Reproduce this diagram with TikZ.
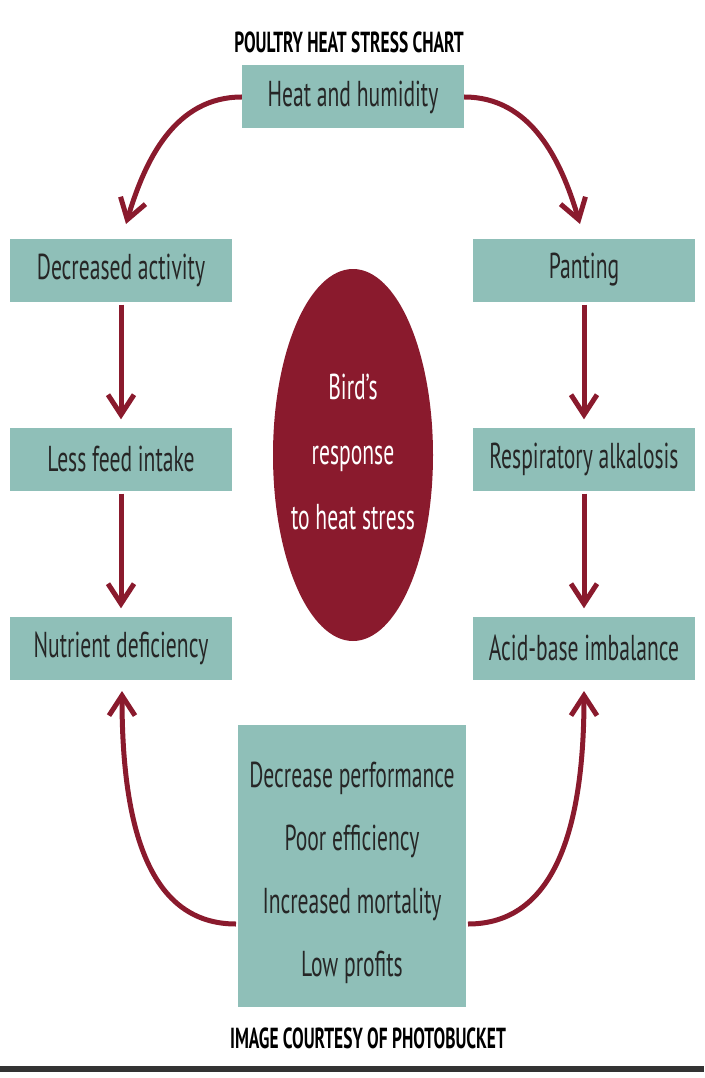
\documentclass[tikz,border=0pt]{standalone}
\usepackage{fontspec}
\setmainfont[FakeStretch=0.6]{PT Sans}
\usetikzlibrary{arrows.meta,positioning,shapes.geometric}
\definecolor{boxteal}{HTML}{8FBFB8}
\definecolor{birdred}{HTML}{8A1A2D}

\begin{document}
\begin{tikzpicture}[x=1pt,y=-1pt,
  stage/.style={fill=boxteal,minimum width=222pt,minimum height=63pt,inner sep=0pt,
    text=black!85,font=\fontsize{36}{63}\selectfont},
  caption/.style={font=\bfseries\fontsize{29}{30}\selectfont},
  flow/.style={birdred,line width=5pt,-{Straight Barb[length=20pt,width=26pt]}}]
  \useasboundingbox (0,0) rectangle (704,1078);
  \node[caption] (title) at (349,42) {POULTRY HEAT STRESS CHART};
  \node[stage] (heat) at (353,97) {Heat and humidity};
  % left column
  \node[stage] (decr) at (121,270) {Decreased activity};
  \node[stage] (feed) at (121,459) {Less feed intake};
  \node[stage] (nutr) at (121,648) {Nutrient deficiency};
  % right column
  \node[stage] (pant) at (584,270) {Panting};
  \node[stage] (resp) at (584,459) {Respiratory alkalosis};
  \node[stage] (acid) at (584,648) {Acid-base imbalance};
  % centre
  \fill[birdred] (353,455) ellipse [x radius=80, y radius=186];
  \node[text=white,align=center,font=\fontsize{36}{65}\selectfont] (bird) at (353,452)
    {Bird's\\response\\to heat stress};
  \node[stage,minimum width=228pt,minimum height=282pt] (perf) at (352,866) {};
  \node[align=center,text=black!85,font=\fontsize{36}{63}\selectfont] (effects) at (352,873)
    {Decrease performance\\Poor efficiency\\Increased mortality\\Low profits};
  \node[caption] (credit) at (368,1038) {IMAGE COURTESY OF PHOTOBUCKET};
  \coordinate (perfL) at (236,924);
  \coordinate (perfR) at (468,924);
  \coordinate (ruleL) at (0,1069);
  \coordinate (ruleR) at (704,1069);

  \draw[flow] (heat.west) .. controls (175,97) and (145,160) .. (126,224);
  \draw[flow] (heat.east) .. controls (531,97) and (561,160) .. (580,224);
  \draw[flow,shorten <=3pt,shorten >=8pt] (decr) -- (feed);
  \draw[flow,shorten <=3pt,shorten >=8pt] (feed) -- (nutr);
  \draw[flow,shorten <=3pt,shorten >=8pt] (pant) -- (resp);
  \draw[flow,shorten <=3pt,shorten >=8pt] (resp) -- (acid);
  \draw[flow] (perfL) .. controls (150,924) and (122,830) .. (122,691);
  \draw[flow] (perfR) .. controls (554,924) and (584,830) .. (584,691);
  \draw[black!80,line width=6pt] (ruleL) -- (ruleR);
\end{tikzpicture}
\end{document}
